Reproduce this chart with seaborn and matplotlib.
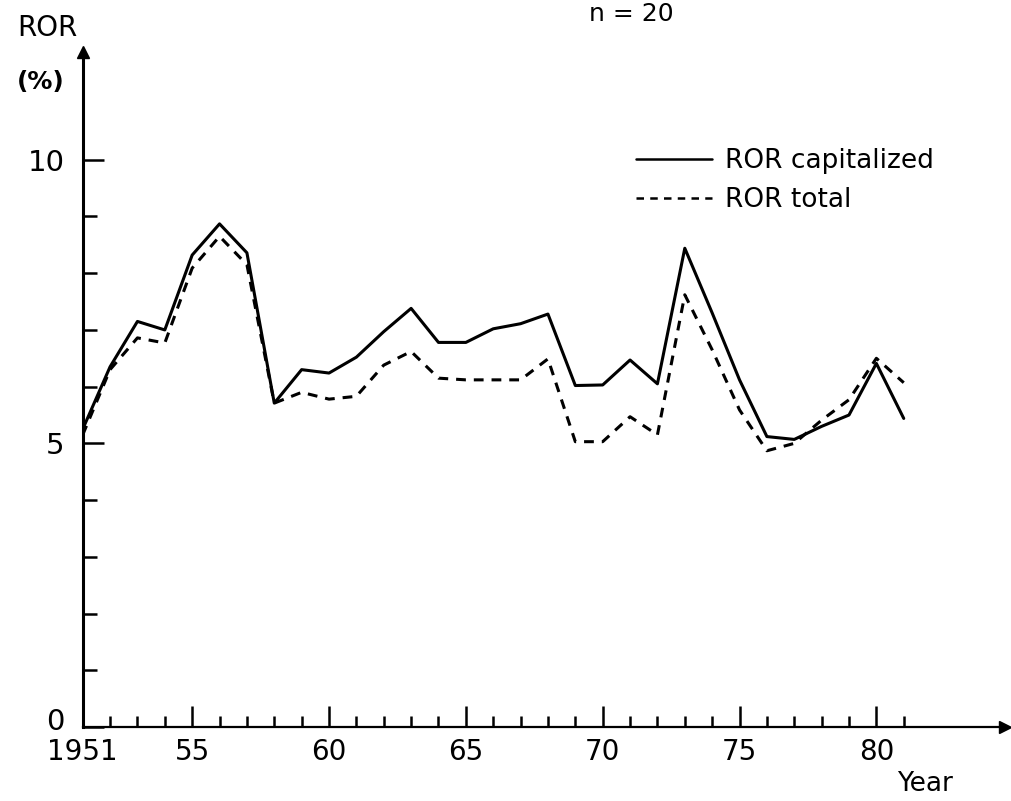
import numpy as np
import pandas as pd
import matplotlib
matplotlib.use("Agg")
import matplotlib.pyplot as plt
import seaborn as sns
from matplotlib.lines import Line2D
from matplotlib.transforms import ScaledTranslation

years = list(range(1951, 1982))
ror_capitalized = [5.25, 6.35, 7.15, 7.0, 8.32, 8.87, 8.36, 5.71, 6.30, 6.24,
                   6.52, 6.97, 7.38, 6.78, 6.78, 7.02, 7.11, 7.28, 6.02, 6.03,
                   6.47, 6.05, 8.44, 7.30, 6.12, 5.12, 5.07, 5.30, 5.50, 6.41, 5.44]
ror_total = [5.15, 6.30, 6.86, 6.77, 8.09, 8.65, 8.15, 5.71, 5.90, 5.78,
             5.83, 6.38, 6.62, 6.15, 6.12, 6.12, 6.12, 6.49, 5.03, 5.03,
             5.47, 5.15, 7.62, 6.65, 5.59, 4.87, 5.0, 5.41, 5.77, 6.50, 6.07]
series_names = ["ROR capitalized", "ROR total"]
major_years = [1951, 1955, 1960, 1965, 1970, 1975, 1980]
major_labels = ["1951", "55", "60", "65", "70", "75", "80"]
y_labels_at = [0, 5, 10]

df = pd.DataFrame({
    "Year": years * 2,
    "ROR": ror_capitalized + ror_total,
    "Series": [series_names[0]] * len(years) + [series_names[1]] * len(years),
})

sns.set_theme(style="white", rc={"text.color": "black", "xtick.color": "black",
                                 "ytick.color": "black", "axes.labelcolor": "black",
                                 "xtick.bottom": True, "ytick.left": True})
plt.rcParams["font.family"] = ["DejaVu Sans"]

fig = plt.figure(figsize=(10.12, 8.01), dpi=100)
ax = fig.add_axes([82.7 / 1012, 74 / 801, (1005 - 82.7) / 1012, (749 - 74) / 801])

sns.lineplot(data=df, x="Year", y="ROR", style="Series", color="black",
             dashes={series_names[0]: "", series_names[1]: (3.2, 2.6)},
             linewidth=2.2, ax=ax, legend=False)

ax.set_xlim(1951, 1984.7)
ax.set_ylim(0, 11.9)

for s in ["top", "right"]:
    ax.spines[s].set_visible(False)
for s in ["left", "bottom"]:
    ax.spines[s].set_color("black")
ax.spines["left"].set_linewidth(2.2)
ax.spines["bottom"].set_linewidth(1.6)

# arrows
ax.plot(1, 0, marker=">", color="black", markersize=9,
        transform=ax.transAxes, clip_on=False)
ax.plot(0, 1, marker="^", color="black", markersize=9,
        transform=ax.transAxes, clip_on=False)

# x ticks
ax.set_xticks(major_years)
ax.set_xticklabels(major_labels)
ax.set_xticks(years, minor=True)
ax.tick_params(axis="x", which="major", direction="in", length=15, width=1.8,
               labelsize=20, pad=8, bottom=True, color="black", labelcolor="black")
ax.tick_params(axis="x", which="minor", direction="in", length=8, width=1.8,
               bottom=True, color="black")

# y ticks
ax.set_yticks(y_labels_at)
ax.set_yticklabels([str(v) for v in y_labels_at])
ax.set_yticks(list(range(0, 11)), minor=True)
ax.tick_params(axis="y", which="major", direction="in", length=15, width=1.8,
               labelsize=21, pad=13, left=True, color="black", labelcolor="black")
ax.tick_params(axis="y", which="minor", direction="in", length=10, width=1.8,
               left=True, color="black")
for lbl in ax.get_yticklabels():
    if lbl.get_text() == "0":
        lbl.set_transform(lbl.get_transform() + ScaledTranslation(0, 6 / 72, fig.dpi_scale_trans))

ax.set_xlabel("")
ax.set_ylabel("")

fig.text(47 / 1012, 1 - 28 / 801, "ROR", fontsize=20, ha="center", va="center")
fig.text(41 / 1012, 1 - 82 / 801, "(%)", fontsize=18, ha="center", va="center",
         fontweight="bold")
fig.text(631 / 1012, 1 - 14 / 801, "n = 20", fontsize=18, ha="center", va="center")
fig.text(925 / 1012, 1 - 784 / 801, "Year", fontsize=19, ha="center", va="center")

handles = [Line2D([], [], color="black", linewidth=1.8),
           Line2D([], [], color="black", linewidth=1.8, linestyle=(0, (3, 2.5)))]
leg = ax.legend(handles, series_names, frameon=False, fontsize=19,
                loc="upper left", bbox_to_anchor=(612 / 1012, 1 - 124 / 801),
                bbox_transform=fig.transFigure, handlelength=2.9,
                handletextpad=0.5, labelspacing=0.5)

fig.savefig("out.png", dpi=100)
